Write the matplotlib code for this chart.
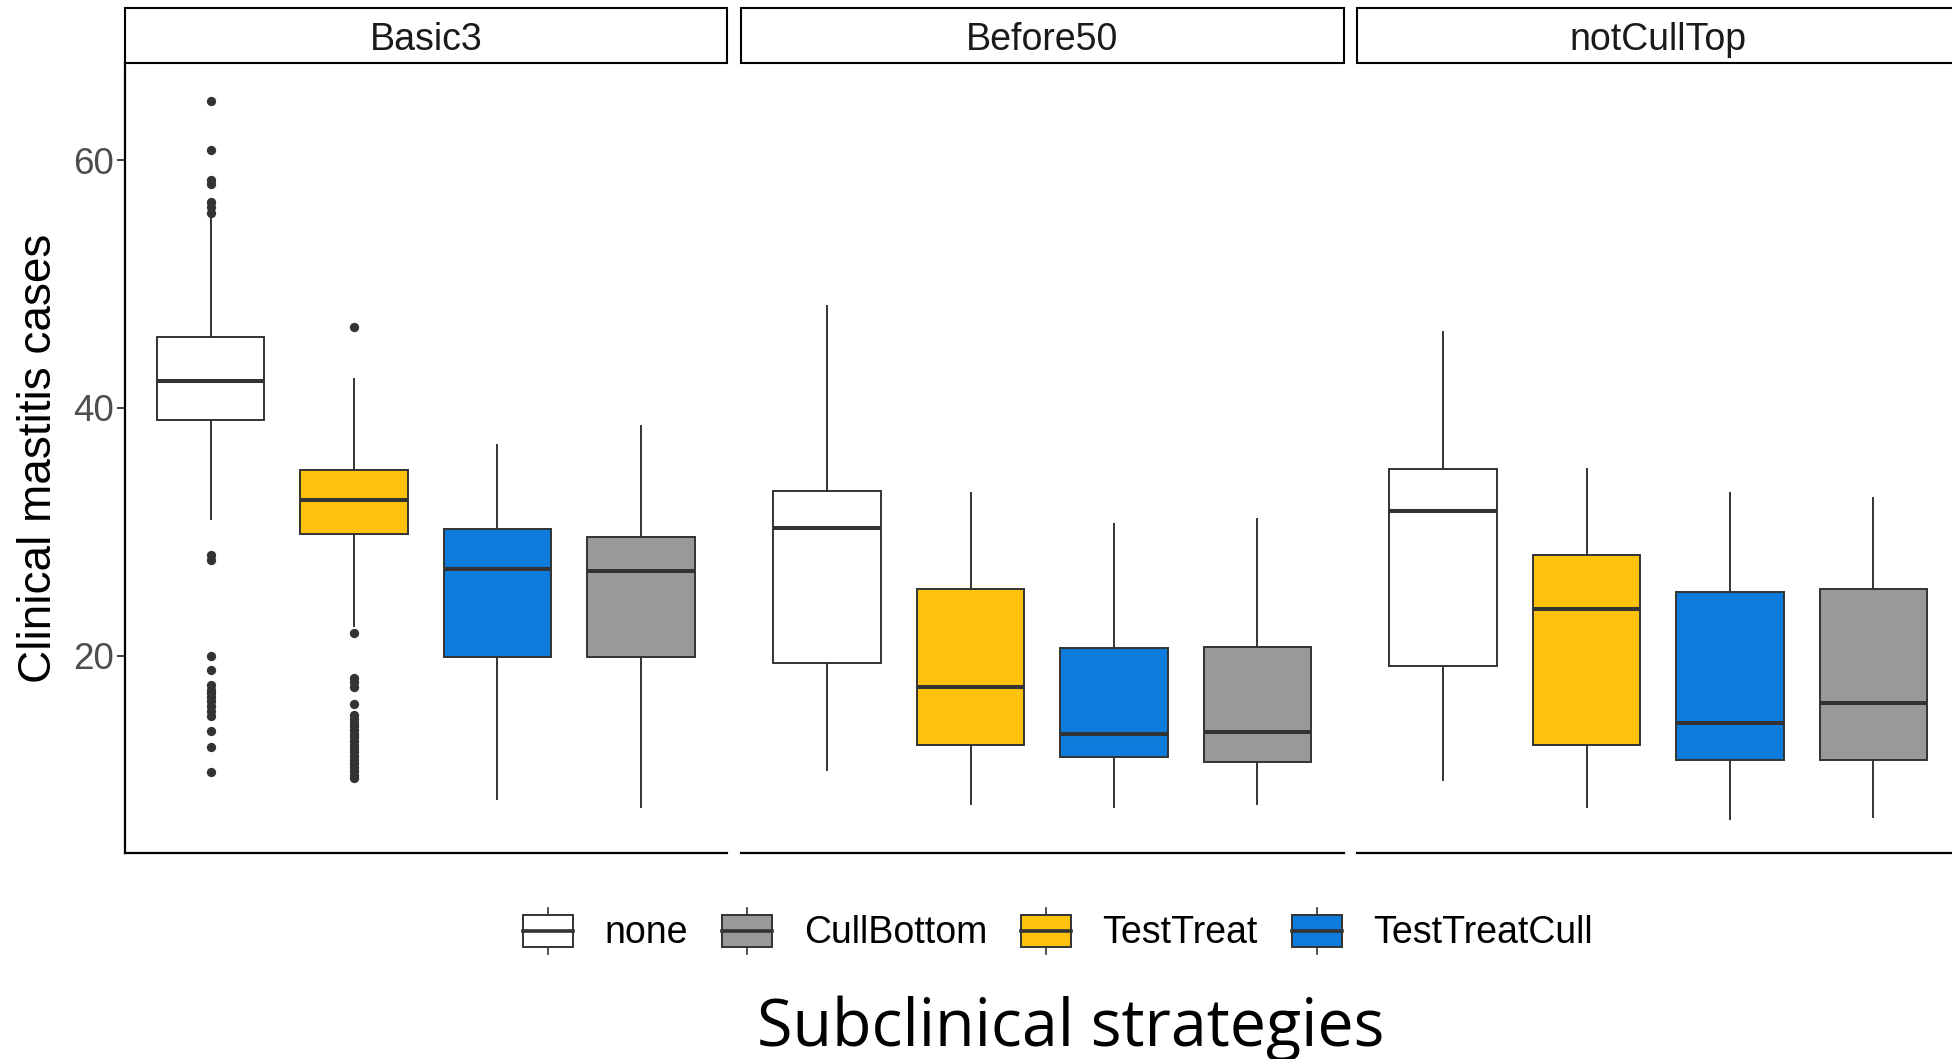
import matplotlib
matplotlib.use('Agg')
import matplotlib.pyplot as plt
from matplotlib.patches import Rectangle, Patch
from matplotlib.lines import Line2D
from matplotlib.legend_handler import HandlerBase

# facets and strategies
panels = ['Basic3', 'Before50', 'notCullTop']
box_order = ['none', 'TestTreat', 'TestTreatCull', 'CullBottom']
legend_order = ['none', 'CullBottom', 'TestTreat', 'TestTreatCull']
fill_colors = {'none': '#FFFFFF', 'CullBottom': '#999999',
               'TestTreat': '#FDC20C', 'TestTreatCull': '#0D7BDC'}

# summaries per box (box_order): whislo, q1, med, q3, whishi
basic3_stats = [[31.0, 39.0, 42.2, 45.7, 55.3],
                [22.4, 29.8, 32.6, 35.0, 42.3],
                [8.4, 19.9, 27.0, 30.2, 37.0],
                [7.8, 19.9, 26.8, 29.55, 38.5]]
before50_stats = [[10.8, 19.4, 30.3, 33.3, 48.2],
                  [8.0, 12.8, 17.5, 25.4, 33.1],
                  [7.8, 11.8, 13.7, 20.6, 30.6],
                  [8.0, 11.4, 13.8, 20.7, 31.0]]
notculltop_stats = [[10.0, 19.2, 31.7, 35.1, 46.1],
                    [7.8, 12.8, 23.8, 28.1, 35.1],
                    [6.8, 11.6, 14.6, 25.1, 33.1],
                    [7.0, 11.6, 16.2, 25.4, 32.7]]

# outliers (only Basic3 has them)
basic3_none_fliers = [64.8, 60.8, 58.4, 58.1, 56.6, 56.2, 55.7, 28.1, 27.7,
                      20.0, 18.8, 17.6, 17.2, 17.0, 16.7, 16.3, 15.9, 15.5,
                      15.1, 13.9, 12.6, 10.6]
basic3_testtreat_fliers = [46.5, 21.8, 18.2, 17.9, 17.5, 16.1, 15.2, 14.9,
                           14.6, 14.3, 14.0, 13.7, 13.4, 13.1, 12.8, 12.5,
                           12.2, 11.9, 11.6, 11.3, 11.0, 10.7, 10.4, 10.1]

panel_stats = [basic3_stats, before50_stats, notculltop_stats]
panel_fliers = [[basic3_none_fliers, basic3_testtreat_fliers, [], []],
                [[], [], [], []],
                [[], [], [], []]]
y_ticks = [20, 40, 60]

W, H = 1952, 1059
panel_left = [124.5, 741, 1357]
panel_w = 602.5
panel_top, panel_bottom = 63, 853
strip_h = 55

EDGE = '#333333'
plt.rcParams['font.family'] = ['Liberation Sans', 'DejaVu Sans']


class BoxKeyHandler(HandlerBase):
	def create_artists(self, legend, orig_handle, xdescent, ydescent, width, height, fontsize, trans):
		x0, y0 = -xdescent, -ydescent
		fc = orig_handle.get_facecolor()
		lo, hi = y0 + 0.16 * height, y0 + 0.84 * height
		rect = Rectangle((x0, lo), width, hi - lo, facecolor=fc, edgecolor=EDGE, lw=1.4, transform=trans)
		med = Line2D([x0, x0 + width], [y0 + height / 2] * 2, color=EDGE, lw=2.6, transform=trans)
		w1 = Line2D([x0 + width / 2] * 2, [y0, lo], color=EDGE, lw=1.2, transform=trans)
		w2 = Line2D([x0 + width / 2] * 2, [hi, y0 + height], color=EDGE, lw=1.2, transform=trans)
		return [w1, w2, rect, med]


fig = plt.figure(figsize=(W / 100, H / 100), dpi=100)

for i, name in enumerate(panels):
	ax = fig.add_axes([panel_left[i] / W, 1 - panel_bottom / H, panel_w / W, (panel_bottom - panel_top) / H])
	stats = []
	for row, fl in zip(panel_stats[i], panel_fliers[i]):
		stats.append(dict(whislo=row[0], q1=row[1], med=row[2], q3=row[3], whishi=row[4], fliers=fl))
	bp = ax.bxp(stats, positions=[1, 2, 3, 4], widths=0.75, patch_artist=True, showcaps=False,
				boxprops=dict(edgecolor=EDGE, linewidth=1.4),
				medianprops=dict(color=EDGE, linewidth=2.9),
				whiskerprops=dict(color=EDGE, linewidth=1.4),
				flierprops=dict(marker='o', markerfacecolor=EDGE, markeredgecolor='none', markersize=6.7))
	for patch, strat in zip(bp['boxes'], box_order):
		patch.set_facecolor(fill_colors[strat])

	ax.set_xlim(0.4, 4.6)
	ax.set_ylim(4.07, 67.83)
	ax.set_xticks([])
	ax.spines['top'].set_visible(False)
	ax.spines['right'].set_visible(False)
	ax.spines['bottom'].set_linewidth(1.6)
	ax.spines['bottom'].set_color('black')
	if i == 0:
		ax.spines['left'].set_linewidth(1.6)
		ax.spines['left'].set_color('black')
		ax.set_yticks(y_ticks)
		ax.tick_params(axis='y', length=5.5, width=1.3, color=EDGE, labelcolor='#4D4D4D', labelsize=26.5, pad=2.5)
	else:
		ax.spines['left'].set_visible(False)
		ax.set_yticks([])

	# facet strip
	sh = strip_h / (panel_bottom - panel_top)
	ax.add_patch(Rectangle((0, 1), 1, sh, transform=ax.transAxes, clip_on=False,
						   facecolor='white', edgecolor='black', lw=1.5))
	ax.text(0.5, 1 + sh * 0.42, name, transform=ax.transAxes, ha='center', va='center',
			fontsize=27, color='#1A1A1A')

fig.text(39 / W, 1 - 458 / H, 'Clinical mastitis cases', rotation=90, ha='center', va='center',
		 fontsize=33, color='black')
fig.text(1071 / W, 1 - 1029 / H, 'Subclinical strategies', ha='center', va='center',
		 fontsize=46.5, color='black', family=['Open Sans', 'DejaVu Sans'])

handles = [Patch(facecolor=fill_colors[s]) for s in legend_order]
fig.legend(handles, legend_order, loc='center', bbox_to_anchor=(1058 / W, 1 - 931 / H), ncol=4,
		   frameon=False, fontsize=27, handler_map={Patch: BoxKeyHandler()},
		   handlelength=1.33, handleheight=1.55, handletextpad=0.85, columnspacing=0.9)

fig.savefig('out.png', dpi=100)
